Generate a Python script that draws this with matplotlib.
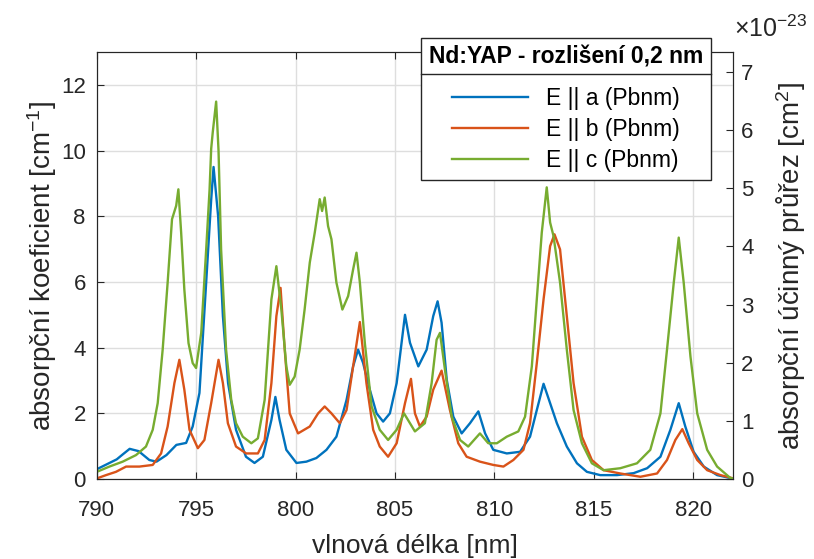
import matplotlib
matplotlib.use("Agg")
import matplotlib.pyplot as plt
from matplotlib.lines import Line2D
from matplotlib.ticker import FuncFormatter

# hodnoty (vlnova delka [nm], absorpcni koeficient [cm^-1])
wl_a = [790.0, 790.5, 791.0, 791.3, 791.65, 792.1, 792.64, 793.0, 793.5, 794.0, 794.49, 794.82,
        795.16, 795.5, 795.75, 795.87, 796.1, 796.34, 796.6, 797.0, 797.5, 797.93, 798.35, 798.78,
        798.98, 799.19, 799.53, 800.04, 800.54, 801.04, 801.55, 802.05, 802.56, 802.89, 803.14,
        803.39, 803.73, 804.07, 804.4, 804.74, 805.08, 805.5, 805.75, 806.17, 806.59, 806.92,
        807.14, 807.34, 807.6, 807.93, 808.35, 808.77, 809.19, 809.53, 809.94, 810.62, 811.29,
        811.79, 812.13, 812.47, 812.8, 813.14, 813.64, 814.15, 814.65, 815.32, 816.16, 817.0,
        817.68, 818.35, 818.85, 819.27, 819.6, 820.02, 820.53, 821.2, 821.87, 822.0]
E_a = [0.3, 0.45, 0.6, 0.75, 0.92, 0.85, 0.58, 0.53, 0.73, 1.04, 1.1, 1.6,
       2.62, 6.0, 8.5, 9.5, 8.0, 4.96, 2.92, 1.5, 0.68, 0.49, 0.68, 1.8,
       2.5, 1.8, 0.89, 0.49, 0.53, 0.64, 0.89, 1.29, 2.41, 3.43, 3.94,
       3.54, 2.72, 2.0, 1.75, 2.0, 2.92, 5.0, 4.15, 3.43, 3.94, 4.96,
       5.41, 4.76, 3.02, 1.9, 1.39, 1.7, 2.06, 1.39, 0.89, 0.78, 0.83,
       1.29, 2.1, 2.9, 2.31, 1.7, 0.99, 0.48, 0.22, 0.12, 0.12, 0.18,
       0.33, 0.68, 1.5, 2.31, 1.6, 0.83, 0.38, 0.12, 0.03, 0.02]

wl_b = [790.0, 790.46, 790.96, 791.47, 792.14, 792.81, 793.23, 793.56, 793.9, 794.15, 794.4,
        794.66, 795.08, 795.41, 795.75, 796.12, 796.34, 796.59, 797.0, 797.51, 798.1, 798.44,
        798.78, 799.03, 799.24, 799.45, 799.7, 800.12, 800.71, 801.13, 801.46, 801.8, 802.22,
        802.56, 802.89, 803.23, 803.56, 803.9, 804.23, 804.65, 805.08, 805.5, 805.8, 806.0,
        806.25, 806.59, 806.92, 807.34, 807.76, 808.18, 808.6, 809.27, 809.94, 810.45, 810.95,
        811.46, 811.79, 812.13, 812.47, 812.8, 813.02, 813.3, 813.64, 813.98, 814.4, 814.9,
        815.49, 816.33, 817.34, 818.18, 818.68, 819.1, 819.45, 819.77, 820.2, 820.7, 821.37,
        821.96, 822.0]
E_b = [0.02, 0.12, 0.22, 0.38, 0.38, 0.43, 0.78, 1.6, 2.92, 3.63, 2.72,
       1.5, 0.94, 1.19, 2.31, 3.63, 2.92, 1.7, 0.99, 0.78, 0.78, 1.19,
       2.92, 4.96, 5.82, 3.94, 2.0, 1.39, 1.6, 2.0, 2.21, 2.0, 1.7,
       2.1, 3.43, 4.78, 2.92, 1.5, 0.99, 0.68, 1.09, 2.31, 3.05, 2.0,
       1.6, 1.9, 2.72, 3.3, 2.1, 1.09, 0.68, 0.53, 0.43, 0.38, 0.58,
       0.89, 1.7, 3.53, 5.47, 7.09, 7.45, 6.99, 4.96, 2.92, 1.29, 0.58,
       0.27, 0.17, 0.07, 0.17, 0.58, 1.19, 1.52, 1.09, 0.58, 0.27, 0.12,
       0.03, 0.02]

wl_c = [790.0, 790.63, 791.3, 791.97, 792.47, 792.81, 793.06, 793.31, 793.56, 793.78, 793.99,
        794.1, 794.24, 794.4, 794.61, 794.82, 794.99, 795.25, 795.5, 795.67, 795.75, 795.83,
        796.0, 796.12, 796.25, 796.5, 796.76, 797.0, 797.34, 797.77, 798.1, 798.44, 798.78,
        799.03, 799.28, 799.53, 799.7, 799.95, 800.2, 800.45, 800.71, 800.96, 801.21, 801.33,
        801.46, 801.63, 801.8, 802.05, 802.35, 802.64, 802.89, 803.06, 803.23, 803.48, 803.82,
        804.23, 804.65, 805.08, 805.45, 806.0, 806.5, 806.84, 807.09, 807.26, 807.51, 807.85,
        808.27, 808.68, 809.27, 809.69, 810.12, 810.62, 811.2, 811.54, 811.88, 812.13, 812.38,
        812.63, 812.8, 812.97, 813.3, 813.64, 813.98, 814.4, 814.9, 815.49, 816.33, 817.17,
        817.84, 818.35, 818.68, 819.02, 819.27, 819.52, 819.86, 820.2, 820.7, 821.2, 821.87,
        822.0]
E_c = [0.22, 0.38, 0.53, 0.73, 0.99, 1.5, 2.31, 3.94, 5.98, 7.91, 8.32,
       8.82, 7.5, 5.77, 4.14, 3.53, 3.38, 4.45, 7.0, 8.82, 10.05, 10.56,
       11.49, 10.0, 6.99, 3.94, 2.41, 1.7, 1.29, 1.09, 1.24, 2.41, 5.47,
       6.48, 5.16, 3.43, 2.87, 3.12, 3.94, 5.16, 6.59, 7.5, 8.52, 8.16,
       8.57, 7.7, 7.3, 5.98, 5.16, 5.57, 6.38, 6.89, 5.98, 4.14, 2.21,
       1.5, 1.19, 1.5, 2.0, 1.45, 1.7, 2.92, 4.24, 4.45, 3.33, 1.9,
       1.19, 0.99, 1.39, 1.09, 1.09, 1.29, 1.45, 1.9, 3.43, 5.47, 7.5,
       8.88, 7.81, 7.4, 5.98, 3.94, 2.1, 1.09, 0.48, 0.27, 0.33, 0.48,
       0.89, 2.0, 3.94, 5.98, 7.35, 5.98, 3.73, 2.0, 0.89, 0.38, 0.03,
       0.02]

labels = ["E || a (Pbnm)", "E || b (Pbnm)", "E || c (Pbnm)"]
colors = ["#0072BD", "#D95319", "#77AC30"]
prepocet = 1.77e23  # koef. [cm^-1] / prepocet -> ucinny prurez [cm^2]

plt.rcParams['font.family'] = ['Liberation Sans', 'DejaVu Sans']
plt.rcParams['mathtext.default'] = 'regular'
dark = "#262626"

fig = plt.figure(figsize=(8.14, 5.59), dpi=100)
ax = fig.add_axes([0.119, 0.143, 0.7815, 0.764])

for x, y, lab, c in zip([wl_a, wl_b, wl_c], [E_a, E_b, E_c], labels, colors):
    ax.plot(x, y, color=c, lw=1.7, label=lab)

ax.set_xlim(790, 822)
ax.set_ylim(0, 13)
ax.set_xticks([790, 795, 800, 805, 810, 815, 820])
ax.set_yticks([0, 2, 4, 6, 8, 10, 12])
ax.grid(True, color="#dedede", lw=1)
ax.set_axisbelow(True)
ax.tick_params(direction="in", length=5, labelsize=16, colors=dark, top=True)
ax.tick_params(axis="x", pad=15)
ax.tick_params(axis="y", pad=8)
for s in ax.spines.values():
    s.set_color(dark)
ax.set_xlabel("vlnová délka [nm]", fontsize=19, color=dark, labelpad=9.5)
ax.set_ylabel(r"absorpční koeficient [cm$^{-1}$]", fontsize=20, color=dark, labelpad=1)

ax2 = ax.twinx()
ax2.set_ylim(0, 13 / prepocet)
ax2.set_yticks([i * 1e-23 for i in range(8)])
ax2.yaxis.set_major_formatter(FuncFormatter(lambda v, p: "%g" % round(v / 1e-23, 3)))
ax2.tick_params(direction="in", length=5, labelsize=16, colors=dark, pad=6)
for s in ax2.spines.values():
    s.set_color(dark)
ax2.set_ylabel(r"absorpční účinný průřez [cm$^{2}$]", fontsize=20, color=dark, labelpad=15)
fig.text(0.902, 0.934, r"$\times$10$^{-23}$", fontsize=18, color=dark, ha="left", va="baseline")

leg = ax.legend(loc="upper right", bbox_to_anchor=(0.9654, 1.0328), borderaxespad=0,
                fontsize=16.5, title="Nd:YAP - rozlišení 0,2 nm",
                title_fontproperties={"weight": "bold", "size": 16.5},
                handlelength=3.3, frameon=True, fancybox=False, framealpha=1,
                edgecolor=dark, borderpad=0.35, labelspacing=0.34)
leg.get_frame().set_linewidth(1)
leg._legend_box.sep = 13  # vetsi mezera pod titulkem legendy
leg.set_zorder(10)
ax2.set_zorder(0)
ax.set_zorder(1)
ax.patch.set_visible(False)

fig.canvas.draw()
lb = leg.get_window_extent()
tb = leg.get_title().get_window_extent()
ysep = (tb.y0 - 5) / fig.bbox.height
fig.add_artist(Line2D([lb.x0 / fig.bbox.width, lb.x1 / fig.bbox.width], [ysep, ysep],
                      transform=fig.transFigure, color=dark, lw=1, zorder=20))

fig.savefig("out.png", dpi=100)
